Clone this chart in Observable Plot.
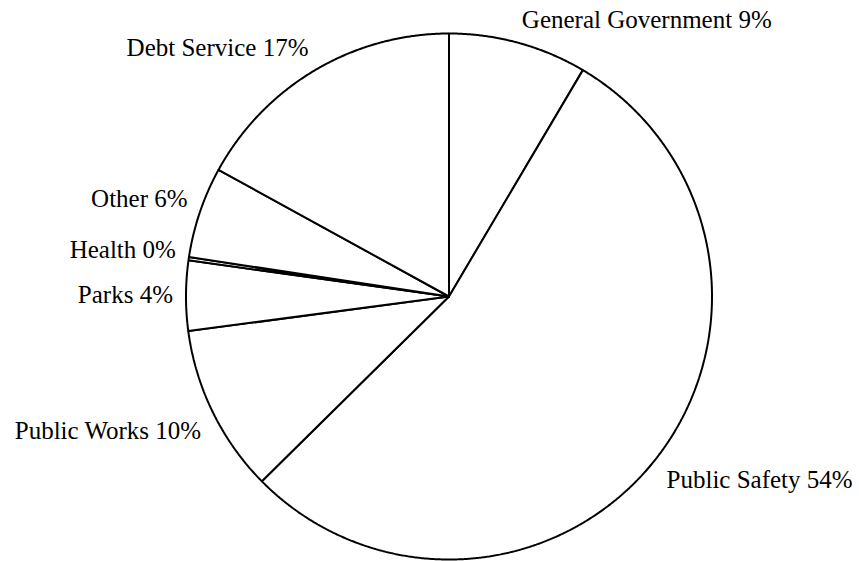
<!DOCTYPE html>
<html>
<head>
<meta charset="utf-8">
<script src="https://cdn.jsdelivr.net/npm/d3@7"></script>
<script src="https://cdn.jsdelivr.net/npm/@observablehq/plot@0.6"></script>
<style>
  html, body { margin: 0; padding: 0; background: #fff; }
  #chart svg { display: block; }
</style>
</head>
<body>
<div id="chart"></div>
<script>
// Data (clockwise from 12 o'clock)
const categories = ["General Government", "Public Safety", "Public Works", "Parks", "Health", "Other", "Debt Service"];
const shares = [8.5, 54.1, 10.3, 4.3, 0.2, 5.6, 17.0];

// Layout
const W = 859, H = 561;
const cx = 448.5, cy = 296, R = 263;
const px = 1 / R; // one pixel in data units

const total = d3.sum(shares);
const pie = d3.pie().sort(null).value(d => d)(shares);

// Slice polygons
const polyPts = [];
pie.forEach((s, i) => {
  const a0 = s.startAngle, a1 = s.endAngle;
  const n = Math.max(2, Math.ceil((a1 - a0) / 0.005));
  polyPts.push({k: i, x: 0, y: 0});
  for (let j = 0; j <= n; j++) {
    const a = a0 + (a1 - a0) * j / n;
    polyPts.push({k: i, x: Math.sin(a), y: Math.cos(a)});
  }
  polyPts.push({k: i, x: 0, y: 0});
});

// Labels (placed just outside the rim at each slice's mid-angle)
const labels = pie.map((s, i) => {
  const a = (s.startAngle + s.endAngle) / 2;
  const sn = Math.sin(a), cs = Math.cos(a);
  const dyPx = -25 * Math.sign(cs) * Math.pow(Math.abs(cs), 0.45) + 1.5;
  return {
    text: `${categories[i]} ${Math.round(shares[i] / total * 100)}%`,
    x: sn + 13 * sn * px,
    y: cs - dyPx * px,
    right: sn >= 0
  };
});

const font = "'Liberation Serif', 'Times New Roman', Times, serif";

const chart = Plot.plot({
  width: W,
  height: H,
  margin: 0,
  style: {background: "#fff", fontFamily: font},
  x: {type: "linear", domain: [-1, 1], range: [cx - R, cx + R], axis: null},
  y: {type: "linear", domain: [-1, 1], range: [cy + R, cy - R], axis: null},
  marks: [
    Plot.line(polyPts, {x: "x", y: "y", z: "k", fill: "white", stroke: "black", strokeWidth: 2, strokeLinejoin: "miter", curve: "linear"}),
    Plot.text(labels.filter(d => d.right), {x: "x", y: "y", text: "text", textAnchor: "start", fontSize: 25, fontFamily: font, fill: "black"}),
    Plot.text(labels.filter(d => !d.right), {x: "x", y: "y", text: "text", textAnchor: "end", fontSize: 25, fontFamily: font, fill: "black"})
  ]
});
document.getElementById("chart").appendChild(chart);
</script>
</body>
</html>
